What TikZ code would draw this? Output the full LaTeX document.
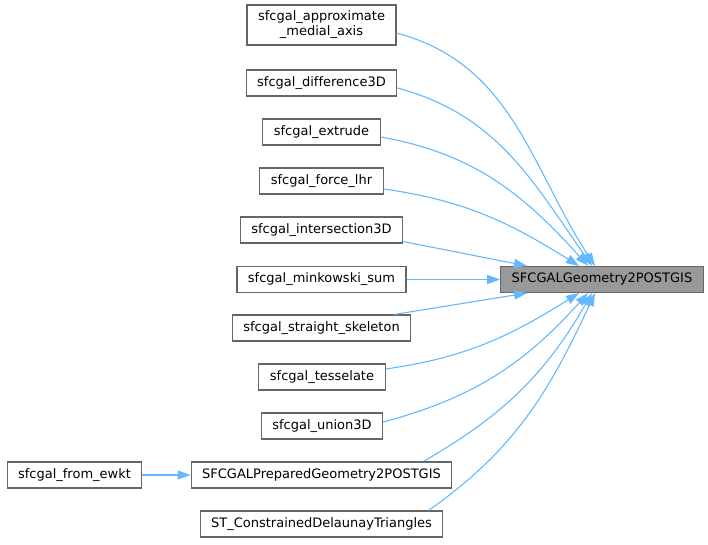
\documentclass[tikz,border=0pt]{standalone}
\usepackage{fontspec}
\setmainfont{DejaVu Sans}[Ligatures=CommonOff]
\usepackage{tikz}
\usetikzlibrary{arrows.meta}
\definecolor{boxgray}{HTML}{666666}
\definecolor{maingray}{HTML}{999999}
\definecolor{edgeblue}{HTML}{63B8FF}
\tikzset{every picture/.append style={x=1pt, y=1pt}}
\tikzset{
    every node/.style={draw=boxgray, fill=white, line width=1.1pt,
    	minimum height=26pt, inner xsep=11pt, inner ysep=3pt, align=center,
    	font=\fontsize{13}{15}\selectfont},
    call/.style={draw=edgeblue, line width=1.1pt,
    	-{Triangle[length=13pt, width=9pt]}}
}

\begin{document}
\begin{tikzpicture}
	\useasboundingbox (0,0) rectangle (708,545);
	\node [fill=maingray] (main) at (602,265.5) {SFCGALGeometry2POSTGIS};
	\node [minimum height=40pt] (appr) at (321.5,520) {sfcgal\_approximate\\\_medial\_axis};
	\node (diff) at (321.5,462) {sfcgal\_difference3D};
	\node (extr) at (321.5,413) {sfcgal\_extrude};
	\node (lhr) at (321.5,364) {sfcgal\_force\_lhr};
	\node (inter) at (321.5,315) {sfcgal\_intersection3D};
	\node (mink) at (321.5,265.5) {sfcgal\_minkowski\_sum};
	\node (skel) at (321.5,217) {sfcgal\_straight\_skeleton};
	\node (tess) at (322,168) {sfcgal\_tesselate};
	\node (union) at (322,119) {sfcgal\_union3D};
	\node (prep) at (321.5,70) {SFCGALPreparedGeometry2POSTGIS};
	\node (cdt) at (321.5,21) {ST\_ConstrainedDelaunayTriangles};
	\node (ewkt) at (74.5,70) {sfcgal\_from\_ewkt};
	\draw [call] ([yshift=-8pt]appr.east) to[out=-15, in=123] ([xshift=-7pt]main.north);
	\draw [call] ([yshift=-5pt]diff.east) to[out=-15, in=125] ([xshift=-10pt]main.north);
	\draw [call] ([yshift=-5pt]extr.east) to[out=-10, in=132] ([xshift=-14pt]main.north);
	\draw [call] ([yshift=-8pt]lhr.east) to[out=-8, in=148] ([xshift=-23pt]main.north);
	\draw [call] ([yshift=2pt]inter.south east) -- ([xshift=-75pt]main.north);
	\draw [call] (mink) -- (main);
	\draw [call] ([xshift=-17pt]skel.north east) -- ([xshift=-75pt]main.south);
	\draw [call] ([yshift=8pt]tess.east) to[out=8, in=-148] ([xshift=-23pt]main.south);
	\draw [call] ([yshift=4pt]union.east) to[out=15, in=-132] ([xshift=-14pt]main.south);
	\draw [call] ([xshift=-29pt]prep.north east) to[out=30, in=-120] ([xshift=-10pt]main.south);
	\draw [call] ([xshift=-15pt]cdt.north east) to[out=35, in=-115] ([xshift=-7pt]main.south);
	\draw [call] (ewkt) -- (prep);
\end{tikzpicture}
\end{document}
